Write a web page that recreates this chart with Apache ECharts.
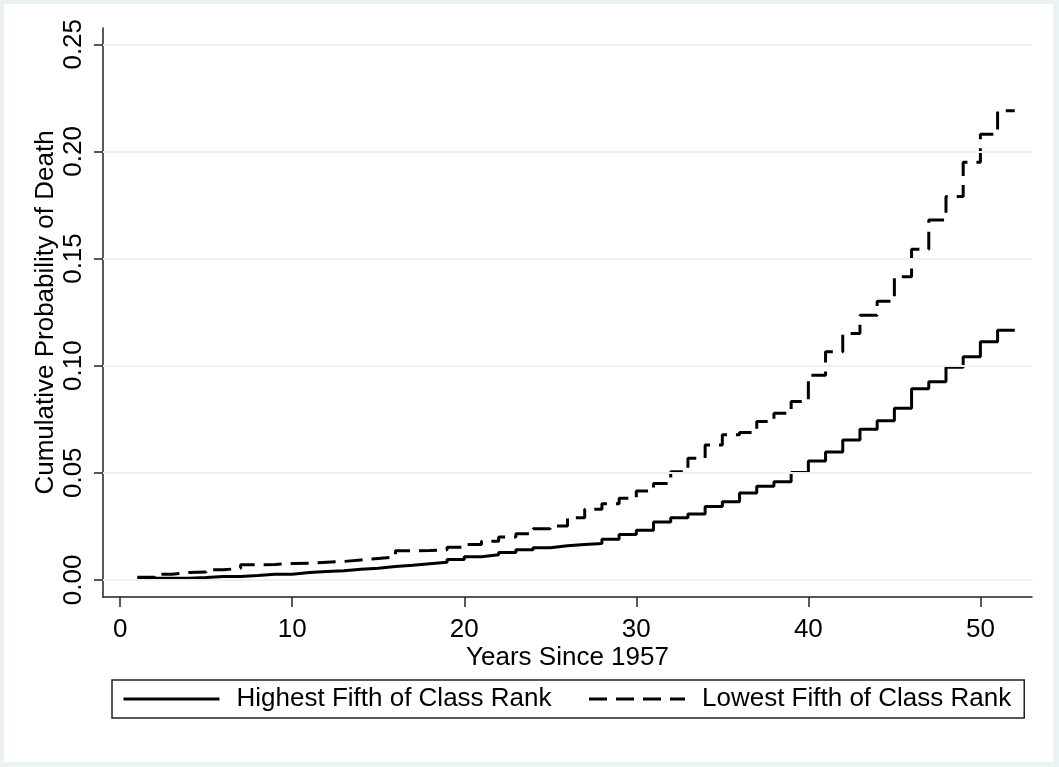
<!DOCTYPE html>
<html>
<head>
<meta charset="utf-8">
<script src="https://cdn.jsdelivr.net/npm/echarts@6/dist/echarts.min.js"></script>
<style>
  html, body { margin: 0; padding: 0; background: #eaf2f3; }
  #chart { width: 1059px; height: 767px; }
</style>
</head>
<body>
<div id="chart"></div>
<script>
// years since 1957, one KM step per year (last point closes the final step)
const years = [1,2,3,4,5,6,7,8,9,10,11,12,13,14,15,16,17,18,19,20,21,22,23,24,25,26,
  27,28,29,30,31,32,33,34,35,36,37,38,39,40,41,42,43,44,45,46,47,48,49,50,51,52];

const highestFifth = [0.0008,0.0008,0.0008,0.0011,0.0016,0.0016,0.0020,0.0026,0.0026,0.0034,
  0.0039,0.0043,0.0050,0.0054,0.0062,0.0068,0.0075,0.0082,0.0095,0.0108,
  0.0117,0.0128,0.0140,0.0150,0.0159,0.0165,0.0170,0.0190,0.0212,0.0231,
  0.0270,0.0290,0.0307,0.0342,0.0365,0.0405,0.0437,0.0458,0.0501,0.0555,
  0.0597,0.0653,0.0703,0.0743,0.0801,0.0892,0.0925,0.0993,0.1042,0.1112,
  0.1165,0.1165];

const lowestFifth = [0.0012,0.0026,0.0034,0.0037,0.0047,0.0054,0.0070,0.0072,0.0076,0.0078,
  0.0082,0.0086,0.0093,0.0100,0.0106,0.0136,0.0137,0.0140,0.0152,0.0165,
  0.0180,0.0200,0.0215,0.0238,0.0252,0.0290,0.0330,0.0355,0.0381,0.0415,
  0.0450,0.0505,0.0568,0.0630,0.0677,0.0688,0.0739,0.0778,0.0832,0.0955,
  0.1065,0.1150,0.1235,0.1300,0.1415,0.1543,0.1680,0.1789,0.1949,0.2080,
  0.2190,0.2190];

const xTicks = [0, 10, 20, 30, 40, 50];
const yTicks = [0, 0.05, 0.10, 0.15, 0.20, 0.25];

const font = '"Liberation Sans", Arial, Helvetica, sans-serif';
const axisColor = '#222';
const gridColor = '#eaf2f3';

const chart = echarts.init(document.getElementById('chart'), null, { renderer: 'canvas' });

const option = {
  backgroundColor: '#eaf2f3',
  animation: false,
  textStyle: { fontFamily: font, color: '#000' },
  graphic: [{
    type: 'rect',
    z: -10,
    shape: { x: 4, y: 4, width: 1049, height: 758 },
    style: { fill: '#ffffff' },
    silent: true
  }],
  grid: { left: 103, right: 27, top: 28, bottom: 170 },
  legend: {
    data: ['Highest Fifth of Class Rank', 'Lowest Fifth of Class Rank'],
    left: 112,
    top: 680,
    orient: 'horizontal',
    itemWidth: 96,
    itemHeight: 24,
    itemGap: 36,
    padding: [6, 13, 6, 10],
    borderColor: '#222',
    borderWidth: 1.5,
    backgroundColor: '#fff',
    selectedMode: false,
    itemStyle: { color: 'rgba(0,0,0,0)', borderWidth: 0, opacity: 0 },
    lineStyle: { width: 3 },
    textStyle: { fontFamily: font, fontSize: 26, color: '#000', padding: [0, 0, 0, 12] }
  },
  xAxis: {
    type: 'value',
    min: -1,
    max: 53,
    name: 'Years Since 1957',
    nameLocation: 'middle',
    nameGap: 48,
    nameMoveOverlap: false,
    nameTextStyle: { fontFamily: font, fontSize: 26, color: '#000' },
    axisLine: { show: true, onZero: false, lineStyle: { color: axisColor, width: 1.5 } },
    axisTick: { show: true, length: 10, customValues: xTicks, lineStyle: { color: axisColor, width: 1.5 } },
    axisLabel: {
      customValues: xTicks,
      margin: 20,
      fontFamily: font, fontSize: 26, color: '#000'
    },
    splitLine: { show: false }
  },
  yAxis: {
    type: 'value',
    min: -0.008,
    max: 0.2576,
    name: 'Cumulative Probability of Death',
    nameLocation: 'middle',
    nameRotate: 90,
    nameGap: 44,
    nameMoveOverlap: false,
    nameTextStyle: { fontFamily: font, fontSize: 26, color: '#000' },
    axisLine: { show: true, onZero: false, lineStyle: { color: axisColor, width: 1.5 } },
    axisTick: { show: true, length: 9, customValues: yTicks, lineStyle: { color: axisColor, width: 1.5 } },
    axisLabel: {
      customValues: yTicks,
      rotate: 90,
      margin: 16,
      fontFamily: font, fontSize: 26, color: '#000',
      formatter: v => v.toFixed(2)
    },
    splitLine: { show: false }
  },
  series: [
    {
      name: 'gridlines',
      type: 'line',
      data: [],
      z: 1,
      silent: true,
      markLine: {
        silent: true,
        symbol: 'none',
        label: { show: false },
        lineStyle: { color: gridColor, width: 2, type: 'solid' },
        data: yTicks.map(v => ({ yAxis: v }))
      }
    },
    {
      name: 'Highest Fifth of Class Rank',
      type: 'line',
      step: 'end',
      symbol: 'none',
      z: 3,
      data: years.map((t, i) => [t, highestFifth[i]]),
      lineStyle: { color: '#000', width: 3 },
      itemStyle: { color: '#000' }
    },
    {
      name: 'Lowest Fifth of Class Rank',
      type: 'line',
      step: 'end',
      symbol: 'none',
      z: 3,
      data: years.map((t, i) => [t, lowestFifth[i]]),
      lineStyle: { color: '#000', width: 3, type: [18, 9] },
      itemStyle: { color: '#000' }
    }
  ]
};

chart.setOption(option);
</script>
</body>
</html>
